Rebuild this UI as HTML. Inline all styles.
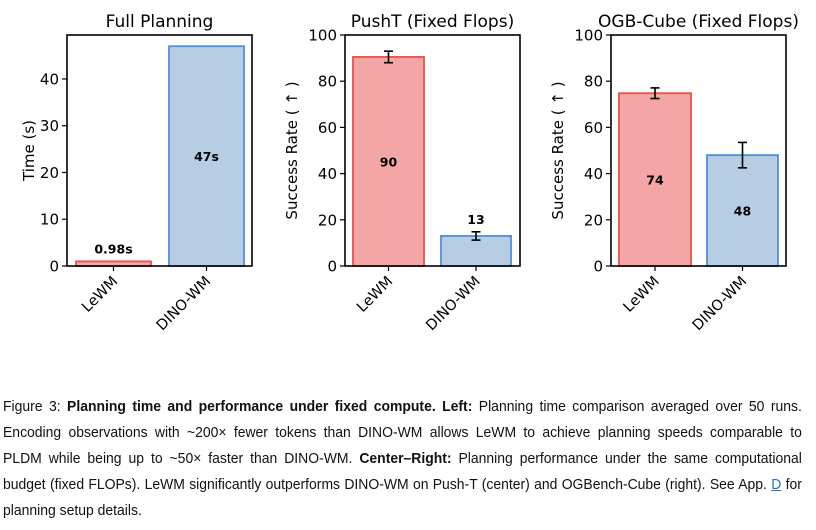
<!DOCTYPE html>
<html><head><meta charset="utf-8"><style>
body{margin:0;background:#fff;width:816px;height:530px;overflow:hidden;position:relative}
#cap{position:absolute;left:3px;top:394px;width:859px;transform:scaleX(0.93);transform-origin:0 0;font-family:"Liberation Sans",sans-serif;font-size:15px;line-height:26px;color:#111}
#cap .l{text-align:justify;text-align-last:justify;white-space:nowrap}
#cap .last{text-align:left}
#cap a{color:#2a6fd6}
</style></head><body>
<svg id="chart" width="816" height="390" style="position:absolute;left:0;top:0" font-family="DejaVu Sans, sans-serif"></svg>
<div id="cap">
<div class="l">Figure 3: <b>Planning time and performance under fixed compute. Left:</b> Planning time comparison averaged over 50 runs.</div>
<div class="l">Encoding observations with ~200× fewer tokens than DINO-WM allows LeWM to achieve planning speeds comparable to</div>
<div class="l">PLDM while being up to ~50× faster than DINO-WM. <b>Center–Right:</b> Planning performance under the same computational</div>
<div class="l">budget (fixed FLOPs). LeWM significantly outperforms DINO-WM on Push-T (center) and OGBench-Cube (right). See App. <a href="#">D</a> for</div>
<div class="last">planning setup details.</div>
</div>
<script>
const categories=["LeWM","DINO-WM"];
const timeValues=[0.98,47];
const timeLabels=["0.98s","47s"];
const pushtValues=[90.5,13];
const pushtLabels=["90","13"];
const pushtErr=[2.5,1.8];
const ogbValues=[74.8,48];
const ogbLabels=["74","48"];
const ogbErr=[2.3,5.5];
const timeTicks=[0,10,20,30,40];
const rateTicks=[0,20,40,60,80,100];
const NS="http://www.w3.org/2000/svg";
const svg=document.getElementById('chart');
function mk(t,a,p){const e=document.createElementNS(NS,t);for(const k in a)e.setAttribute(k,a[k]);(p||svg).appendChild(e);return e;}
const panels=[
 {name:"full-planning",title:"Full Planning",yl:"Time (s)",x0:67,x1:252,ymax:49.4,vals:timeValues,labs:timeLabels,err:null,ticks:timeTicks,bars:[[76,151],[169,244]],midLab:[false,true]},
 {name:"pusht",title:"PushT (Fixed Flops)",yl:"Success Rate ( ↑ )",x0:345,x1:520,ymax:100,vals:pushtValues,labs:pushtLabels,err:pushtErr,ticks:rateTicks,bars:[[353,424],[441,511]],midLab:[true,false]},
 {name:"ogb-cube",title:"OGB-Cube (Fixed Flops)",yl:"Success Rate ( ↑ )",x0:611,x1:786,ymax:100,vals:ogbValues,labs:ogbLabels,err:ogbErr,ticks:rateTicks,bars:[[619,691],[707,778]],midLab:[true,true]}
];
const Y0=266,Y1=35;
const fills=["#f4a6a6","#b7cde3"],strokes=["#e8524a","#4a90d9"];
panels.forEach(p=>{
 const g=mk('g',{});
 
 
 const y=v=>Y0-(v/p.ymax)*(Y0-Y1);
 p.vals.forEach((v,i)=>{
  const [a,b]=p.bars[i];
  const r=mk('rect',{x:a,y:y(v),width:b-a,height:Y0-y(v),fill:fills[i],stroke:strokes[i],'stroke-width':1.8},g);
  
  
  const cx=(a+b)/2;
  let top=y(v);
  if(p.err){
   const e=p.err[i];
   mk('line',{x1:cx,x2:cx,y1:y(v-e),y2:y(v+e),stroke:'#000','stroke-width':1.6},g);
   mk('line',{x1:cx-4.5,x2:cx+4.5,y1:y(v-e),y2:y(v-e),stroke:'#000','stroke-width':1.6},g);
   mk('line',{x1:cx-4.5,x2:cx+4.5,y1:y(v+e),y2:y(v+e),stroke:'#000','stroke-width':1.6},g);
   top=y(v+e);
  }
  const txt=p.labs[i];
  const ly=p.midLab[i]?(y(v)+Y0)/2+5:top-8;
  const t=mk('text',{x:cx,y:ly,'text-anchor':'middle','font-size':12.5,'font-weight':'bold'},g);
  t.textContent=txt;
  
  
  mk('line',{x1:cx,x2:cx,y1:Y0,y2:Y0+5,stroke:'#000','stroke-width':1.2},g);
  const cl=mk('text',{x:0,y:0,'text-anchor':'end','font-size':14.5,transform:`translate(${cx+5},${Y0+16}) rotate(-45)`},g);
  cl.textContent=categories[i];
  
  
 });
 p.ticks.forEach(tv=>{
  mk('line',{x1:p.x0-5,x2:p.x0,y1:y(tv),y2:y(tv),stroke:'#000','stroke-width':1.2},g);
  const t=mk('text',{x:p.x0-8,y:y(tv)+5.5,'text-anchor':'end','font-size':15},g);
  t.textContent=tv;
  
  
 });
 const fr=mk('rect',{x:p.x0,y:Y1,width:p.x1-p.x0,height:Y0-Y1,fill:'none',stroke:'#000','stroke-width':1.6},g);
 
 
 const ti=mk('text',{x:(p.x0+p.x1)/2,y:27,'text-anchor':'middle','font-size':17},g);
 ti.textContent=p.title;
 
 
 const yl=mk('text',{x:0,y:0,'text-anchor':'middle','font-size':15,transform:`translate(${p.name==='full-planning'?34:p.x0-48},${(Y0+Y1)/2}) rotate(-90)`},g);
 yl.textContent=p.yl;
 
 
});
</script>
</body></html>
